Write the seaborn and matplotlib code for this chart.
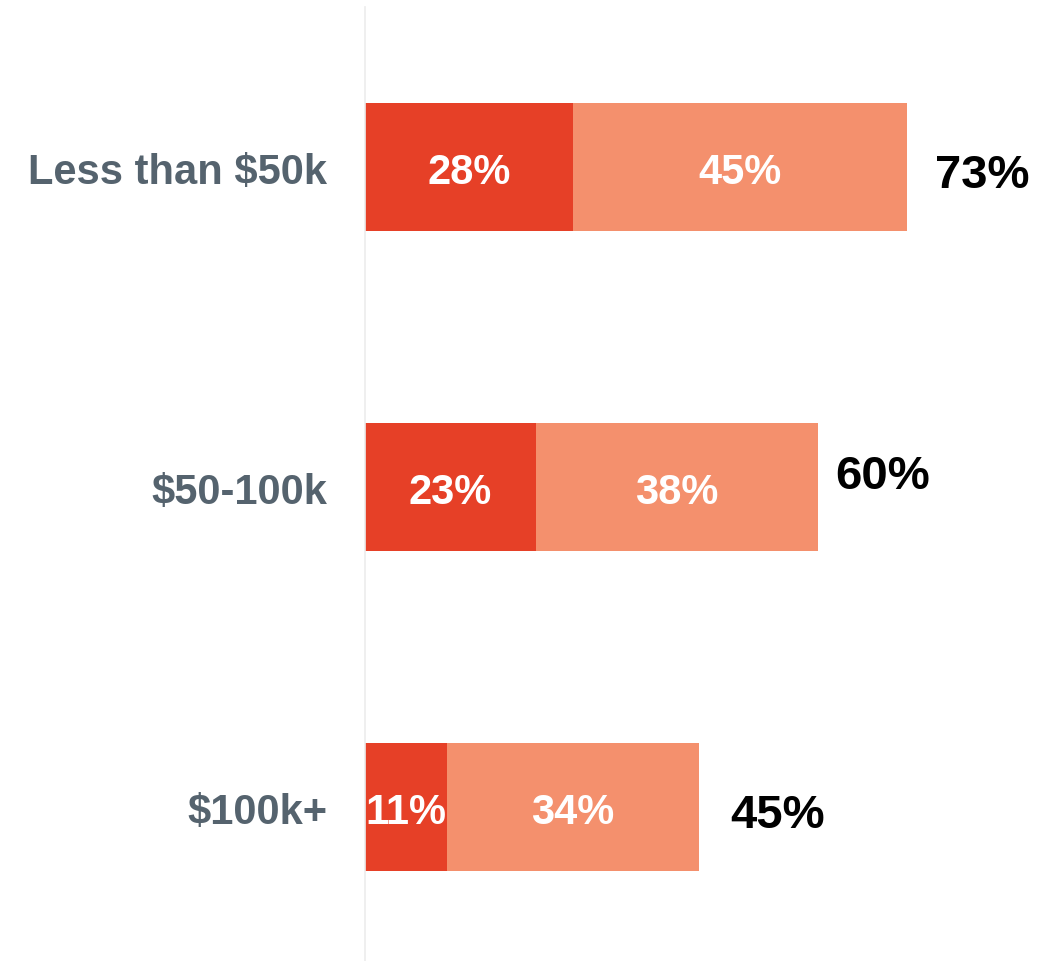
import pandas as pd
import matplotlib.pyplot as plt
import seaborn as sns

# data
categories = ["Less than $50k", "$50-100k", "$100k+"]
first_part = [28, 23, 11]
second_part = [45, 38, 34]
totals = [73, 60, 45]

dark_red = "#E64027"
salmon = "#F4906D"
label_grey = "#55636E"

df = pd.DataFrame({"group": categories, "first": first_part, "second": second_part})
df["stacked"] = df["first"] + df["second"]

sns.set_style("white")
plt.rcParams["font.family"] = ["Liberation Sans", "DejaVu Sans"]

fig = plt.figure(figsize=(10.59, 9.62), dpi=100)
ax = fig.add_axes([365 / 1059, 0, 1 - 365 / 1059, 1 - 8 / 962])

# light segment drawn as full stacked length, dark segment on top
sns.barplot(data=df, x="stacked", y="group", orient="h", color=salmon,
            width=0.4, saturation=1, linewidth=0, ax=ax)
sns.barplot(data=df, x="first", y="group", orient="h", color=dark_red,
            width=0.4, saturation=1, linewidth=0, ax=ax)

# segment labels (va="center" sits a bit high, nudge down)
text_dy = 0.016
for i, row in df.iterrows():
    ax.text(row["first"] / 2, i + text_dy, f"{row['first']}%", color="white",
            fontsize=30, weight="bold", ha="center", va="center")
    ax.text(row["first"] + row["second"] / 2, i + text_dy, f"{row['second']}%",
            color="white", fontsize=30, weight="bold", ha="center", va="center")

# totals to the right of each bar (small nudges to match the original)
total_dx = [3.8, 2.4, 4.2]
total_dy = [0.025, -0.035, 0.025]
for i, row in df.iterrows():
    ax.text(row["stacked"] + total_dx[i], i + total_dy[i], f"{totals[i]}%",
            color="black", fontsize=34, weight="bold", ha="left", va="center")

ax.set_xlim(0, 93.5)
ax.set_ylim(2.48, -0.5)
ax.set_xlabel("")
ax.set_ylabel("")
ax.set_xticks([])
ax.tick_params(axis="y", length=0, pad=27)
for lbl in ax.get_yticklabels():
    lbl.set_fontsize(30)
    lbl.set_fontweight("bold")
    lbl.set_color(label_grey)

for side in ["top", "right", "bottom"]:
    ax.spines[side].set_visible(False)
ax.spines["left"].set_color("#ECECEC")
ax.spines["left"].set_linewidth(1.2)

fig.savefig("out.png", dpi=100)
